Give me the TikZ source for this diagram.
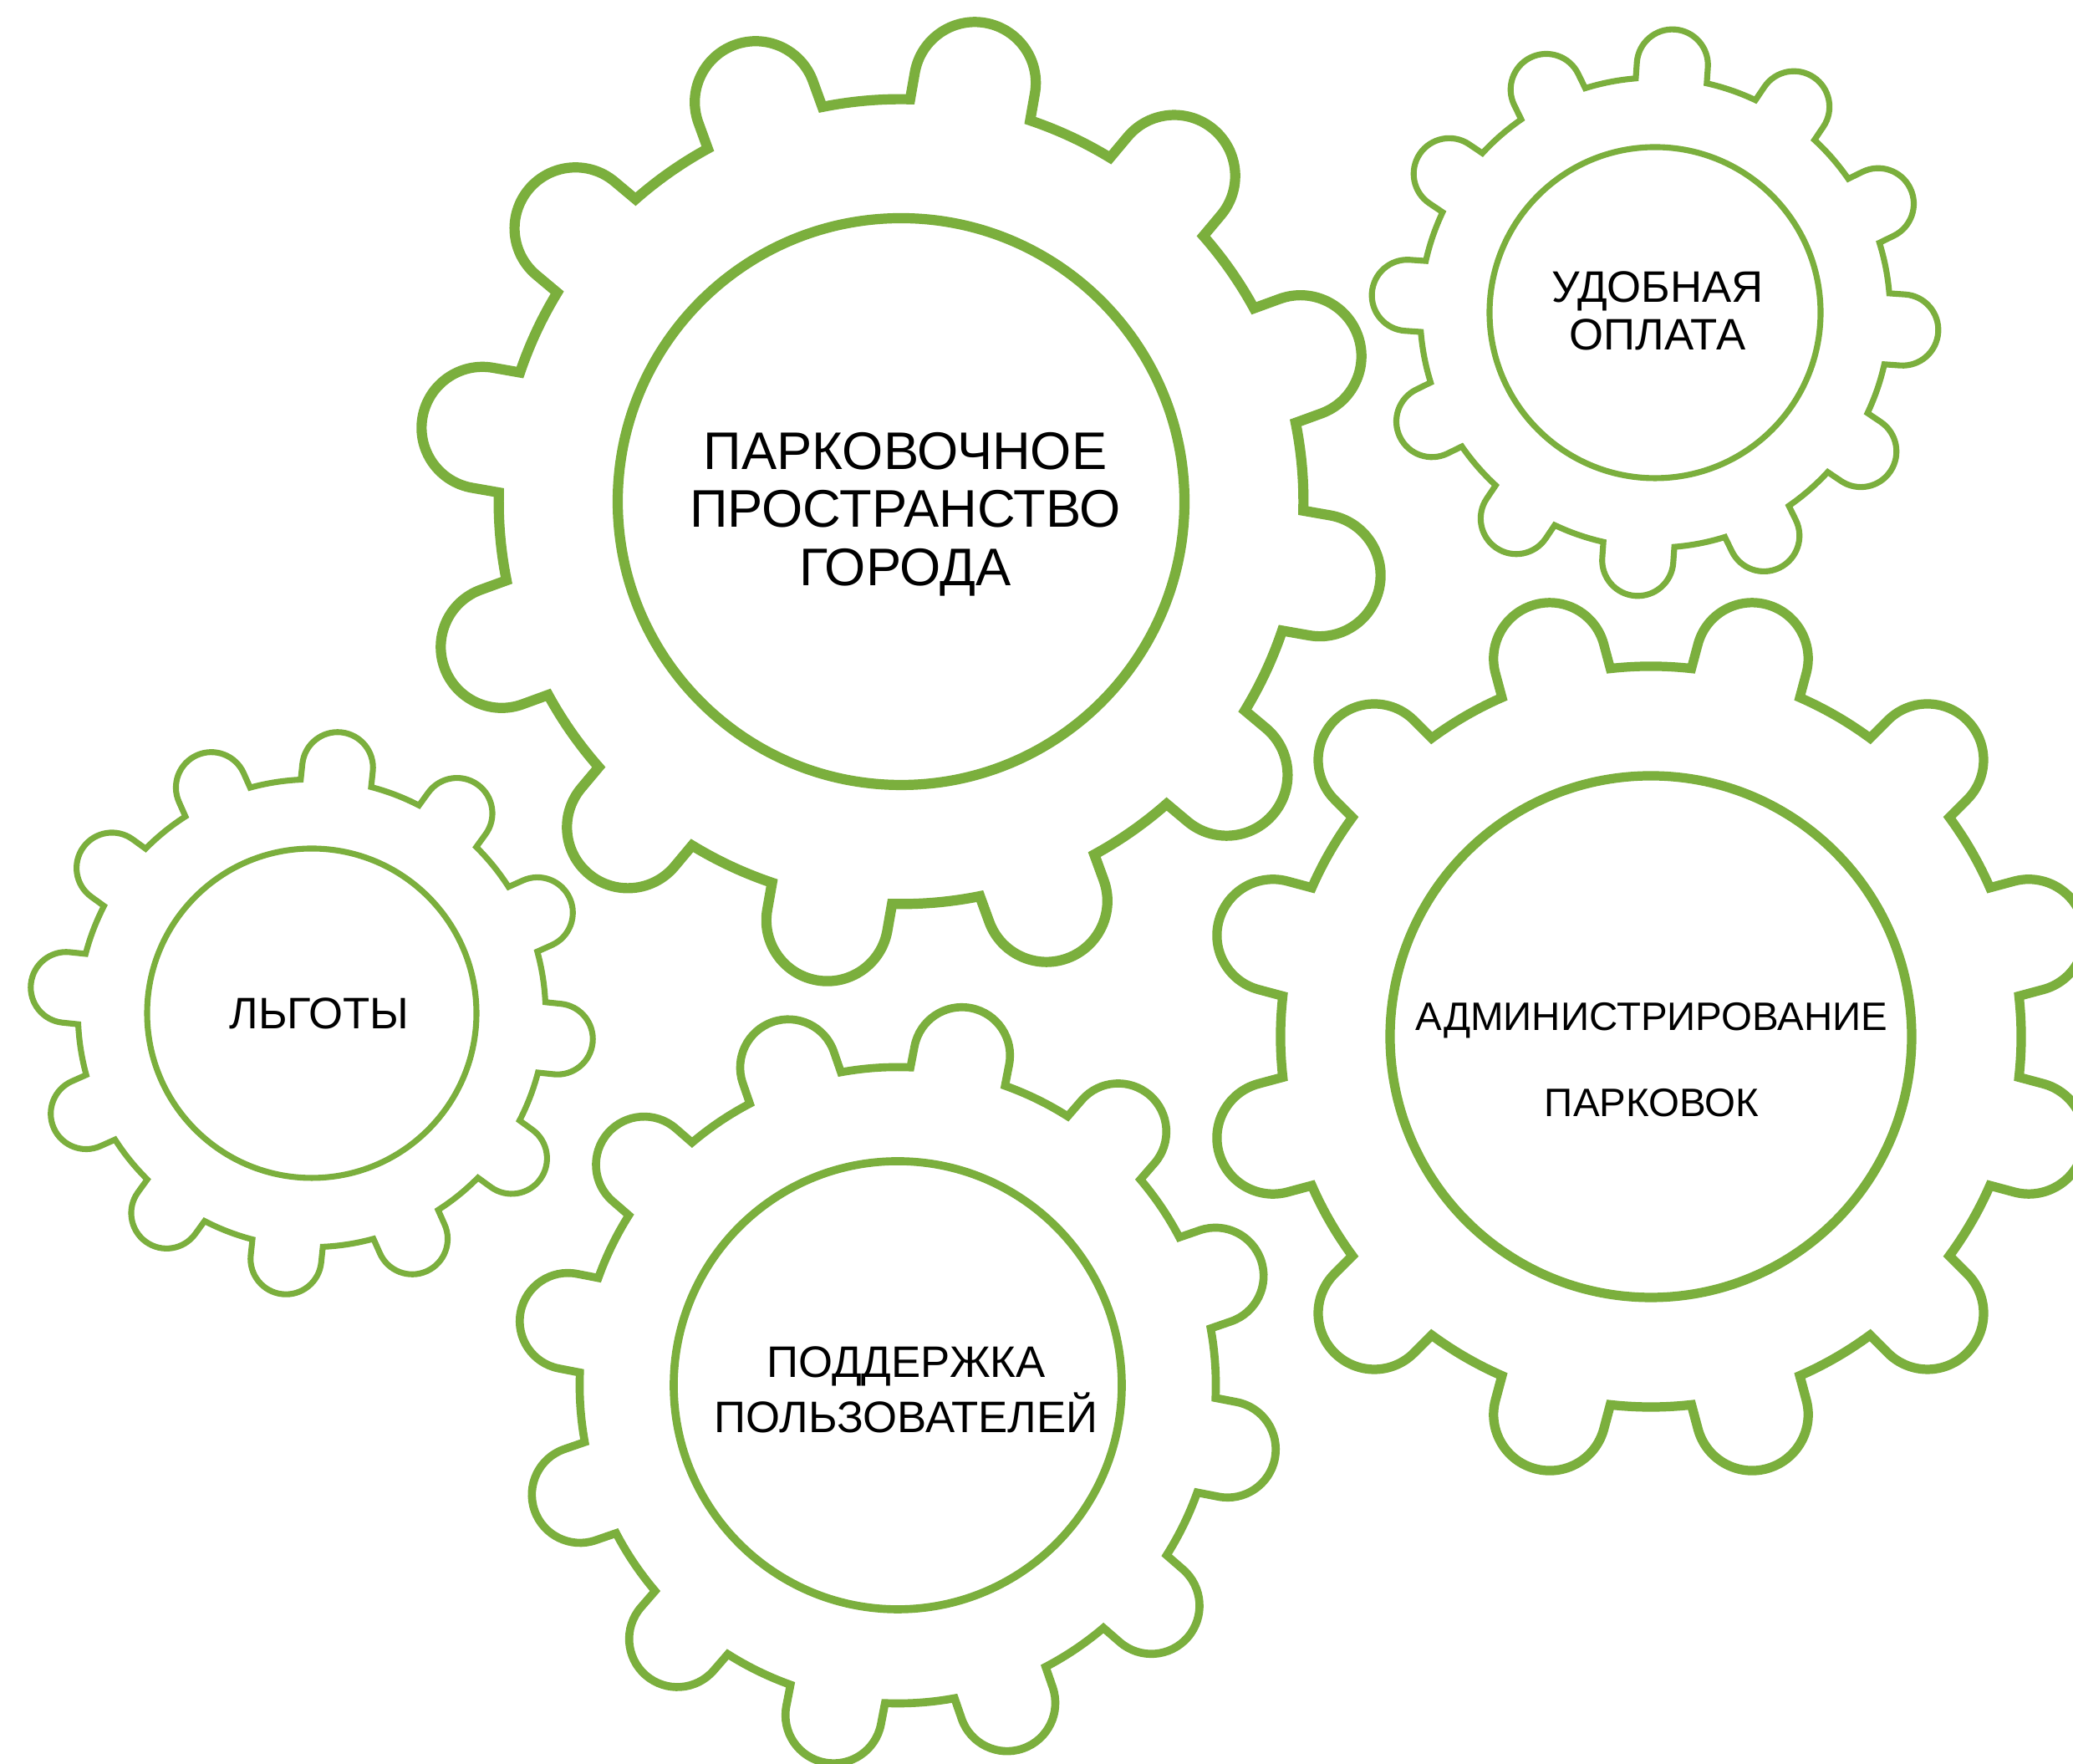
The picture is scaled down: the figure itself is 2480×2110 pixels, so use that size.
\documentclass[tikz,border=0pt]{standalone}
\usepackage{fontspec}
\setmainfont{Liberation Sans}

\definecolor{geargreen}{RGB}{123,175,61}

\tikzset{
  gearline/.style={draw=geargreen, line join=miter},
  tlabel/.style={align=center, inner sep=0pt, text=black},
  bigfont/.style={font=\fontsize{18}{19.8}\selectfont},
  midfont/.style={font=\fontsize{15}{16.2}\selectfont},
  widefont/.style={font=\fontsize{15}{18.8}\selectfont},
  adminfont/.style={font=\fontsize{13.5}{29.3}\selectfont}
}

%% gear: centre x, centre y, radius of the inner ring, angle of the first tooth
\newcommand{\gear}[4]{%
  \pgfmathsetmacro\gR{1.42*#3}%
  \pgfmathsetmacro\gW{0.215*#3}%
  \pgfmathsetmacro\gE{1.5153*#3}%
  \pgfmathsetmacro\gA{asin(0.215/1.42)}%
  \pgfmathsetmacro\gB{atan(0.215/1.5)}%
  \pgfmathsetmacro\gLW{0.036*#3*0.01}%
  \begin{scope}[shift={(#1,#2)}, line width=\gLW cm]
    \draw[gearline] (#4-15:\gR) \foreach \k in {0,...,11}{
      arc[start angle=#4+30*\k-15, end angle=#4+30*\k-\gA, radius=\gR]
      -- (#4+30*\k-\gB:\gE)
      arc[start angle=#4+30*\k-90, end angle=#4+30*\k+90, radius=\gW]
      -- (#4+30*\k+\gA:\gR)
      arc[start angle=#4+30*\k+\gA, end angle=#4+30*\k+15, radius=\gR]
    } -- cycle;
    \draw[gearline] (0,0) circle[radius=#3];
  \end{scope}}

\begin{document}
\begin{tikzpicture}[x=0.01cm, y=0.01cm]
  \useasboundingbox (0,0) rectangle (2480,2110);
  \fill[white] (0,0) rectangle (2480,2110);
  \clip (0,0) rectangle (2480,2110);

%% the five gears
  \gear{1078}{1510}{339}{20}
  \gear{1980}{1736}{198}{26}
  \gear{373}{898}{197}{24}
  \gear{1074}{453}{268}{19}
  \gear{1975}{870}{312}{15}

%% texts in the middle of each gear
  \node[tlabel, bigfont] (city) at (1083,1495) {ПАРКОВОЧНОЕ\\ПРОСТРАНСТВО\\ГОРОДА};
  \node[tlabel, midfont] (pay) at (1983,1738) {УДОБНАЯ\\ОПЛАТА};
  \node[tlabel, midfont] (perks) at (382,898) {ЛЬГОТЫ};
  \node[tlabel, widefont] (help) at (1084,448) {ПОДДЕРЖКА\\ПОЛЬЗОВАТЕЛЕЙ};
  \node[tlabel, adminfont] (admin) at (1976,842) {АДМИНИСТРИРОВАНИЕ\\ПАРКОВОК};
\end{tikzpicture}
\end{document}
